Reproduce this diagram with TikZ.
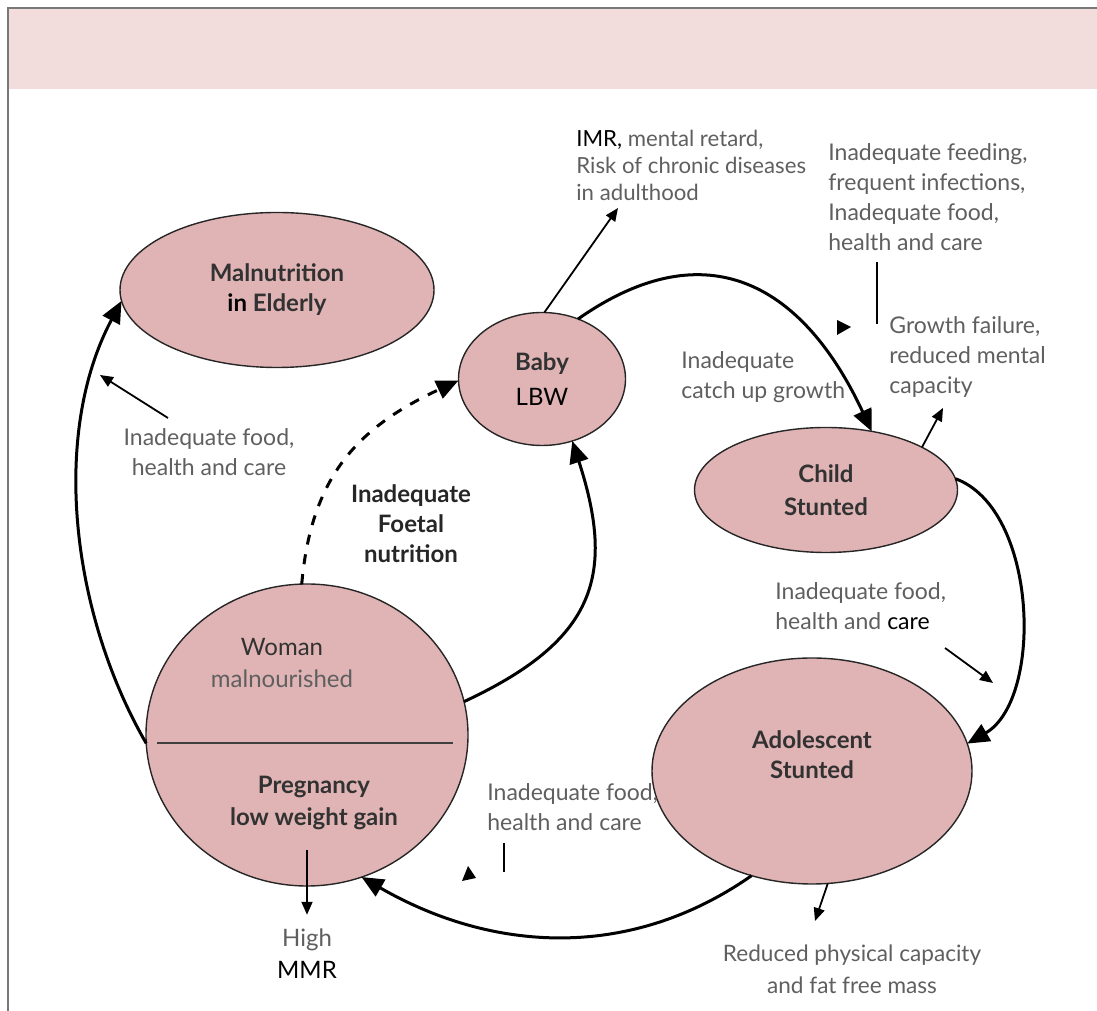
\documentclass[tikz,border=0pt]{standalone}
\usepackage{fontspec}
\setmainfont{Lato}
\usetikzlibrary{arrows.meta,shapes.geometric,positioning}
\definecolor{bandpink}{RGB}{242,220,220}
\definecolor{nodepink}{RGB}{224,180,181}
\definecolor{labgray}{RGB}{95,95,95}
\definecolor{framegray}{RGB}{120,120,120}
\definecolor{darktext}{RGB}{50,50,50}

\begin{document}
\begin{tikzpicture}[x=0.5pt, y=0.5pt,
    blob/.style={ellipse, draw=black!85, line width=0.7pt, fill=nodepink,
        inner sep=0pt, outer sep=0pt, align=center, text=darktext,
        font=\fontsize{12}{15}\selectfont\bfseries},
    lab/.style={inner sep=0pt, text=labgray, font=\fontsize{11.5}{15}\selectfont},
    cyc/.style={line width=1.5pt, -{Triangle[length=11pt, width=9.5pt]}},
    eff/.style={line width=0.9pt, -{Triangle[length=6.5pt, width=5.5pt]}}]
    \useasboundingbox (0,0) rectangle (1097,1011);
    % header band and frame
    \fill[bandpink] (9,922) rectangle (1097,1002);
    \draw[framegray, line width=1pt] (8,0) -- (8,1003) -- (1097,1003);

    % life cycle stages
    \node[blob, minimum width=157pt, minimum height=77.5pt] (eld) at (277,721) {Malnutrition\\{\color{black}in} Elderly};
    \node[blob, minimum width=83.5pt, minimum height=66.5pt, font=\fontsize{12}{17.5}\selectfont\bfseries] (baby) at (542,632) {Baby\\{\mdseries\color{black}LBW}};
    \node[blob, minimum width=131.5pt, minimum height=62.5pt, font=\fontsize{12}{16.5}\selectfont\bfseries] (child) at (826,521) {Child\\Stunted};
    \node[blob, minimum width=160pt, minimum height=113pt, text depth=16pt] (adol) at (812,240) {Adolescent\\Stunted};
    \node[blob, minimum width=161pt, minimum height=151pt] (woman) at (307,276) {};
    \node[lab, align=center, font=\fontsize{12}{16}\selectfont] (wom) at (282,348) {{\color{darktext}Woman}\\malnourished};
    \node[lab, align=center, text=darktext, font=\fontsize{12}{16}\selectfont\bfseries] (preg) at (314,208) {Pregnancy\\low weight gain};
    \draw[line width=0.6pt, black!75] (157,268) -- (453,268);

    % causes and outcomes
    \node[lab, align=center] (eldlab) at (209,559) {Inadequate food,\\health and care};
    \node[lab, align=center, text=black!85, font=\fontsize{12}{15}\selectfont\bfseries] (foet) at (411,487) {Inadequate\\Foetal\\nutrition};
    \node[lab, anchor=west, align=left, font=\fontsize{11.1}{13.5}\selectfont] (imr) at (576,846) {{\color{black}IMR,} mental retard,\\Risk of chronic diseases\\in adulthood};
    \node[lab, anchor=west, align=left] (feed) at (828,814) {Inadequate feeding,\\frequent infections,\\Inadequate food,\\health and care};
    \node[lab, anchor=west, align=left] (catch) at (681,634) {Inadequate\\catch up growth};
    \node[lab, anchor=west, align=left] (grow) at (889,654) {Growth failure,\\reduced mental\\capacity};
    \node[lab, anchor=west, align=left] (adlab) at (775,405) {Inadequate food,\\health and {\color{black}care}};
    \node[lab, anchor=west, align=left] (womlab) at (487,204) {Inadequate food,\\health and care};
    \node[lab, align=center, font=\fontsize{11.3}{16}\selectfont] (red) at (852,42) {Reduced physical capacity\\and fat free mass};
    \node[lab, align=center, font=\fontsize{12}{16}\selectfont] (high) at (307,57) {High\\{\color{black}MMR}};

    \coordinate (eldfrom) at (168,593);
    \coordinate (eldtip) at (100,636);
    \coordinate (imrtip) at (618,803);
    \coordinate (growtip) at (943,603);
    \coordinate (redtip) at (815,90);
    \coordinate (adfrom) at (945,363);
    \coordinate (adtip) at (993,328);
    \coordinate (feedtop) at (877,749);
    \coordinate (feedend) at (877,687);
    \coordinate (womlabtop) at (504,168);
    \coordinate (womlabend) at (504,139);

    % the cycle
    \draw
    (woman.183) edge[cyc, out=120, in=242, looseness=0.87] (eld.184)
    (woman.12) edge[cyc, out=25, in=-72, looseness=1.3] (baby.-64)
    (baby.59) edge[cyc, out=35, in=115, looseness=1.3] (child.52)
    (child.5) edge[cyc, out=-20, in=30, looseness=0.85] (adol.10)
    (adol.240) edge[cyc, out=215, in=-30, looseness=0.98] (woman.-69)
    (woman.92) edge[cyc, dash pattern=on 5pt off 5pt, out=85, in=205, looseness=1.09] (baby.181);

    % side arrows
    \draw
    (eldfrom) edge[eff] (eldtip)
    (baby.88) edge[eff] (imrtip)
    (child.24) edge[eff] (growtip)
    (adol.-82) edge[eff] (redtip)
    (adfrom) edge[eff] (adtip)
    (preg.south -| high.north) edge[eff, shorten <=10pt, shorten >=7pt] (high.north);
    \draw[line width=0.9pt] (feedtop) -- (feedend) (womlabtop) -- (womlabend);
    \fill (837,691) -- (851,684) -- (837,676) -- cycle;
    \fill (462,130) -- (468,145) -- (476,133) -- cycle;
\end{tikzpicture}
\end{document}
